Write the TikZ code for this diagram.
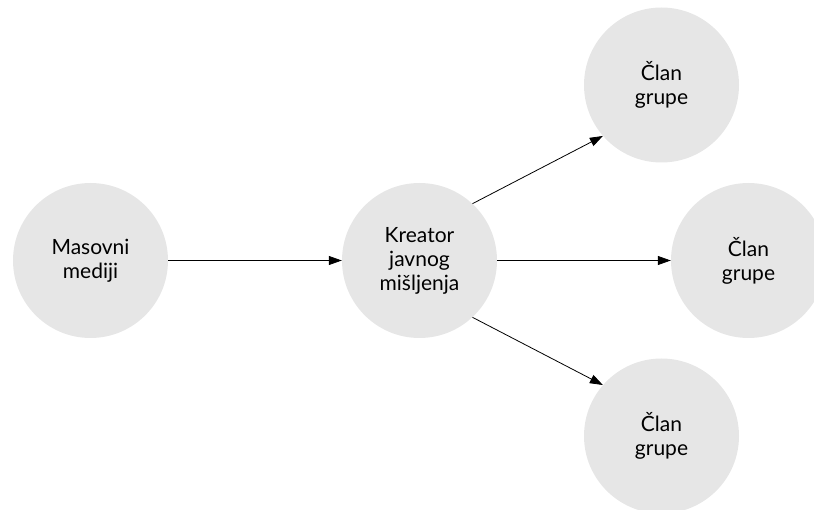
\documentclass[tikz,border=0pt]{standalone}
\usepackage{fontspec}
\setmainfont{Lato}
\usetikzlibrary{arrows.meta}
\definecolor{bubble}{RGB}{230,230,230}
\begin{document}
\begin{tikzpicture}[x=1pt,y=-1pt,
  bubble/.style={circle,fill=bubble,minimum size=155pt,inner sep=0pt,
    align=center,font=\fontsize{21}{24}\selectfont},
  link/.style={black,line width=0.8pt,-{Triangle[length=13pt,width=9pt]}}]
\useasboundingbox (0,0) rectangle (814,510);
\clip (0,0) rectangle (814,510);
\node[bubble] (mediji) at (90.5,260.5) {Masovni\\mediji};
\node[bubble] (kreator) at (419.5,260.5) {Kreator\\javnog\\mišljenja};
\node[bubble] (clanA) at (661.5,85) {Član\\grupe};
\node[bubble] (clanB) at (748.5,260.5) {Član\\grupe};
\node[bubble] (clanC) at (661.5,436) {Član\\grupe};
\draw[link] (mediji) -- (kreator);
\draw[link] (kreator) -- (clanB);
\draw[link] (kreator.47) -- (clanA.221);
\draw[link] (kreator.313) -- (clanC.139);
\end{tikzpicture}
\end{document}
